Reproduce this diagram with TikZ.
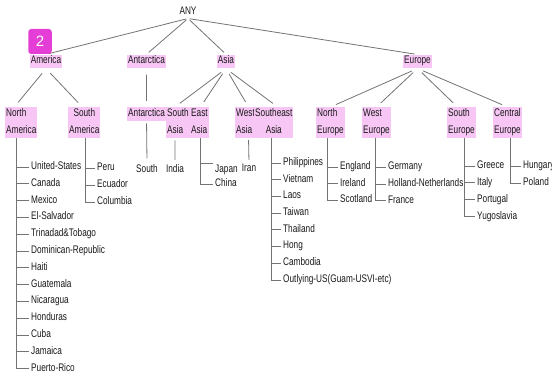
\documentclass[tikz,border=0pt]{standalone}
\usepackage{fontspec}
\setmainfont{Liberation Sans}[FakeStretch=0.75]
\newfontfamily\tagfont{Liberation Sans}
\definecolor{hilite}{RGB}{247,198,244}
\definecolor{badge}{RGB}{228,62,214}
\newcommand{\treefont}{\fontsize{11}{17}\selectfont}
\newcommand{\hs}{\rule[-3pt]{0pt}{9pt}}

\begin{document}
\begin{tikzpicture}[x=1pt, y=-1pt,
    region/.style={fill=hilite, text=black!90, font=\treefont, inner xsep=1pt, inner ysep=1.5pt,
        align=left, execute at begin node=\hs, execute at end node=\hs},
    sub/.style={region, anchor=north west},
    leaf/.style={anchor=west, text=black!90, font=\treefont, inner xsep=2pt, inner ysep=1.5pt,
        execute at begin node=\hs},
    edge/.style={draw=black!55, line width=0.8pt},
    down/.style={edge, shorten <=6pt, shorten >=6pt}
]
\useasboundingbox (0,0) rectangle (552,377);

% Root and continents
\node[font=\treefont, text=black!90, inner sep=1pt] (any) at (188,12) {\hs ANY};
\node[region] (amer) at (46,61.5) {America};
\node[region] (ant) at (146.5,61.5) {Antarctica};
\node[region] (asia) at (226,61.5) {Asia};
\node[region] (eur) at (417.5,61.5) {Europe};

\foreach \c in {amer, ant, asia, eur}
    \draw[edge, shorten <=2pt, shorten >=3pt] (any.south) -- (\c.north);

% Regions
\node[sub] (na) at (5,107) {North\\America};
\node[sub, align=center] (sa) at (68,107) {South\\America};
\node[sub] (ants) at (127,107) {Antarctica};
\node[sub] (sas) at (166,107) {South\\Asia};
\node[sub] (eas) at (190,107) {East\\Asia};
\node[sub] (was) at (235,107) {West\\Asia};
\node[sub, align=center] (seas) at (254,107) {Southeast\\Asia};
\node[sub] (neu) at (316,107) {North\\Europe};
\node[sub] (weu) at (362,107) {West\\Europe};
\node[sub] (seu) at (447,107) {South\\Europe};
\node[sub] (ceu) at (493,107) {Central\\Europe};

\draw[down] (amer.south) -- ([xshift=-7pt]na.north);
\draw[down] (amer.south) -- ([xshift=-2pt]sa.north);
\draw[down] (ant.south) -- (ants.north);
\draw[down] (asia.south) -- ([xshift=-3pt]sas.north);
\draw[down] (asia.south) -- ([xshift=1pt]eas.north);
\draw[down] (asia.south) -- ([xshift=3pt]was.north);
\draw[down] (asia.south) -- ([xshift=4pt]seas.north);
\draw[down] (eur.south) -- (neu.north);
\draw[down] (eur.south) -- (weu.north);
\draw[down] (eur.south) -- ([xshift=-4pt]seu.north);
\draw[down] (eur.south) -- (ceu.north);

% Countries
\foreach \nm/\txt [count=\k from 0] in {us/United-States, ca/Canada, mx/Mexico, sv/El-Salvador,
    tt/Trinadad\&Tobago, dr/Dominican-Republic, ht/Haiti, gt/Guatemala, ni/Nicaragua,
    hn/Honduras, cu/Cuba, jm/Jamaica, pr/Puerto-Rico} {
    \node[leaf] (\nm) at (29,{167+16.8*\k}) {\txt};
    \draw[edge] ([xshift=-4.5pt]na.south) |- (\nm.west);
}
\foreach \nm/\txt [count=\k from 0] in {pe/Peru, ec/Ecuador, co/Columbia} {
    \node[leaf] (\nm) at (95,{168.5+16.8*\k}) {\txt};
    \draw[edge] ([xshift=1pt]sa.south) |- (\nm.west);
}

\node[leaf, anchor=north] (south) at (147,162.5) {South};
\draw[edge, shorten <=2pt, shorten >=4pt] (ants.south) -- (south.north);

\node[leaf, anchor=north] (in) at (175,162.5) {India};
\draw[edge, shorten <=2pt, shorten >=2.5pt] ([xshift=-3pt]sas.south) -- (in.north);

\node[leaf] (jp) at (213,170) {Japan};
\node[leaf] (cn) at (213,184) {China};
\draw[edge] ([xshift=1pt]eas.south) |- (jp.north west);
\draw[edge] ([xshift=1pt]eas.south) |- (cn.west);

\node[leaf, anchor=north] (ir) at (249,162.5) {Iran};
\draw[edge, shorten <=2pt, shorten >=2.5pt] ([xshift=3pt]was.south) -- (ir.north);

\foreach \nm/\txt [count=\k from 0] in {ph/Philippines, vn/Vietnam, la/Laos, tw/Taiwan,
    th/Thailand, hk/Hong, kh/Cambodia, ou/Outlying-US(Guam-USVI-etc)} {
    \node[leaf] (\nm) at (281,{163+16.7*\k}) {\txt};
    \draw[edge] ([xshift=-2.6pt]seas.south) |- (\nm.west);
}
\foreach \nm/\txt [count=\k from 0] in {en/England, ie/Ireland, sc/Scotland} {
    \node[leaf] (\nm) at (338,{167+16.7*\k}) {\txt};
    \draw[edge] ([xshift=-3.3pt]neu.south) |- (\nm.west);
}
\foreach \nm/\txt [count=\k from 0] in {de/Germany, nl/Holland-Netherlands, fr/France} {
    \node[leaf] (\nm) at (386,{167.5+16.7*\k}) {\txt};
    \draw[edge] ([xshift=-1.3pt]weu.south) |- (\nm.west);
}
\foreach \nm/\txt [count=\k from 0] in {gr/Greece, it/Italy, pt/Portugal, yu/Yugoslavia} {
    \node[leaf] (\nm) at (475,{166+16.9*\k}) {\txt};
    \draw[edge] ([xshift=2.7pt]seu.south) |- (\nm.west);
}
\foreach \nm/\txt [count=\k from 0] in {hu/Hungary, pl/Poland} {
    \node[leaf] (\nm) at (521,{166+17*\k}) {\txt};
    \draw[edge] ([xshift=2.7pt]ceu.south) |- (\nm.west);
}

% Step badge
\node[fill=badge, rounded corners=3pt, minimum width=23.5pt, minimum height=25pt,
    inner sep=0pt, text=white, font=\tagfont\fontsize{15}{15}\selectfont] (tag) at (40,41.5) {2};

\end{tikzpicture}
\end{document}
